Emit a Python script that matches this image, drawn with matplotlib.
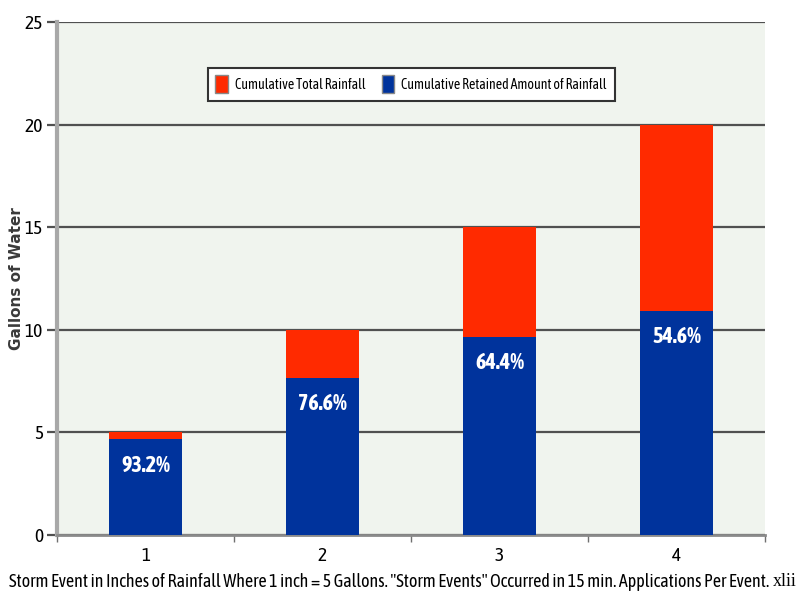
import numpy as np
import matplotlib.pyplot as plt
from matplotlib.patches import Patch

# storm events (inches of rain) and gallons
events = ['1', '2', '3', '4']
total_gal = [5, 10, 15, 20]
retained_gal = [4.66, 7.66, 9.66, 10.92]
pct_labels = ['93.2%', '76.6%', '64.4%', '54.6%']

narrow = ['Asap Condensed', 'DejaVu Sans']
red = '#ff2a00'
blue = '#00339c'

fig = plt.figure(figsize=(8.12, 6.02), dpi=100)
ax = fig.add_axes([0.0702, 0.1113, 0.872, 0.852])
ax.set_facecolor('#f0f4ee')

x = np.arange(len(events))
top_part = np.array(total_gal) - np.array(retained_gal)
w = 0.41
ax.bar(x, retained_gal, w, color=blue, zorder=3)
ax.bar(x, top_part, w, bottom=retained_gal, color=red, zorder=3)

for xi, r, lab in zip(x, retained_gal, pct_labels):
    ax.annotate(lab, (xi, r), xytext=(0, -11), textcoords='offset points',
                ha='center', va='top', color='white', fontsize=16,
                fontweight='bold', family=narrow, zorder=4)

ax.set_xlim(-0.5, 3.5)
ax.set_ylim(0, 25)
ax.set_yticks([0, 5, 10, 15, 20, 25])
ax.yaxis.grid(True, color='#505050', lw=1.6, zorder=1)
ax.set_axisbelow(True)
ax.tick_params(axis='y', length=7, width=1.6, color='#505050', labelsize=14, pad=3)
for t in ax.get_yticklabels():
    t.set_family(narrow)

ax.set_xticks(x)
ax.set_xticklabels(events, fontsize=14, family=narrow)
ax.set_xticks(np.arange(-0.5, 4, 1), minor=True)
ax.tick_params(axis='x', which='major', length=0, pad=9)
ax.tick_params(axis='x', which='minor', length=5, width=1, color='#707070')

for s in ['top', 'right']:
    ax.spines[s].set_visible(False)
ax.spines['left'].set_color('#a8a8a8')
ax.spines['left'].set_linewidth(3)
ax.spines['bottom'].set_color('#8a8a8a')
ax.spines['bottom'].set_linewidth(2)

ax.set_ylabel('Gallons of Water', fontsize=11, fontweight='bold', color='#3a3a3a')
ax.yaxis.set_label_coords(-0.046, 0.5)
fig.text(0.011, 0.025, 'Storm Event in Inches of Rainfall Where 1 inch = 5 Gallons. "Storm Events" Occurred in 15 min. Applications Per Event.',
         fontsize=13, family=narrow, ha='left', va='baseline')
fig.text(0.952, 0.027, 'xlii', fontsize=13, family='Liberation Serif', ha='left', va='baseline')

handles = [Patch(facecolor=red, edgecolor='#888888', label='Cumulative Total Rainfall'),
           Patch(facecolor=blue, edgecolor='#888888', label='Cumulative Retained Amount of Rainfall')]
leg = ax.legend(handles=handles, loc='upper center', bbox_to_anchor=(0.5, 0.925), ncol=2,
                fancybox=False, framealpha=1, edgecolor='#333333', prop={'family': narrow, 'size': 10},
                handlelength=0.9, handleheight=1.6, handletextpad=0.5, columnspacing=1.2, borderpad=0.55)
leg.get_frame().set_linewidth(1.5)

fig.savefig('out.png')
